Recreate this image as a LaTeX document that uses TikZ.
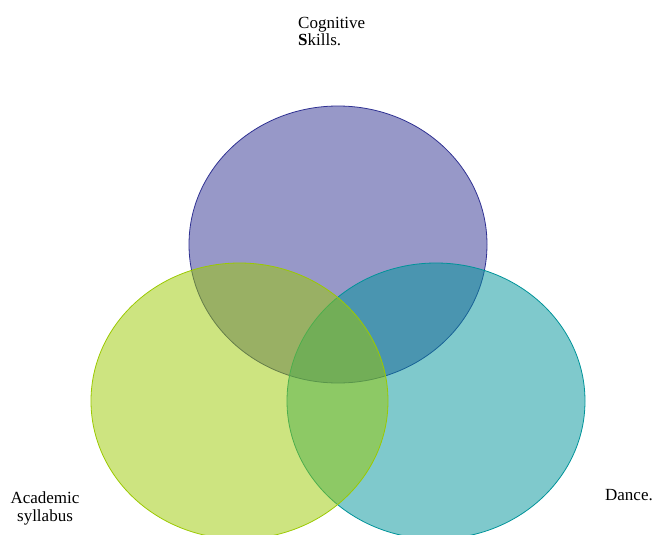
\documentclass[tikz,border=0pt]{standalone}
\usepackage{fontspec}
\setmainfont{Liberation Serif}
\definecolor{cogblue}{RGB}{47,49,146}
\definecolor{acadgreen}{RGB}{155,201,1}
\definecolor{danceteal}{RGB}{0,147,153}
\tikzset{
  setshape/.style={line width=0.8pt, fill opacity=0.5},
  lbl/.style={font=\fontsize{17}{17.5}\selectfont, inner sep=0pt}
}
\begin{document}
\begin{tikzpicture}[x=1pt,y=-1pt]
  \useasboundingbox (0,0) rectangle (653,535);
  % three overlapping sets
  \begin{scope}
    \clip (0,0) rectangle (653,535);
    \draw[setshape, draw=cogblue, fill=cogblue] (338,244.5) ellipse [x radius=149, y radius=138.5];
    \draw[setshape, draw=danceteal, fill=danceteal] (436,401) ellipse [x radius=149, y radius=138];
    \draw[setshape, draw=acadgreen, fill=acadgreen] (239.5,401) ellipse [x radius=148.5, y radius=138];
  \end{scope}
  % labels (base anchor sits on the last line)
  \node[lbl, anchor=base west, align=left] (cog) at (298,46) {Cognitive\\\textbf{S}kills.};
  \node[lbl, anchor=base, align=center] (acad) at (45,521) {Academic\\syllabus};
  \node[lbl, anchor=base east] (dance) at (653,500) {Dance.};
\end{tikzpicture}
\end{document}
